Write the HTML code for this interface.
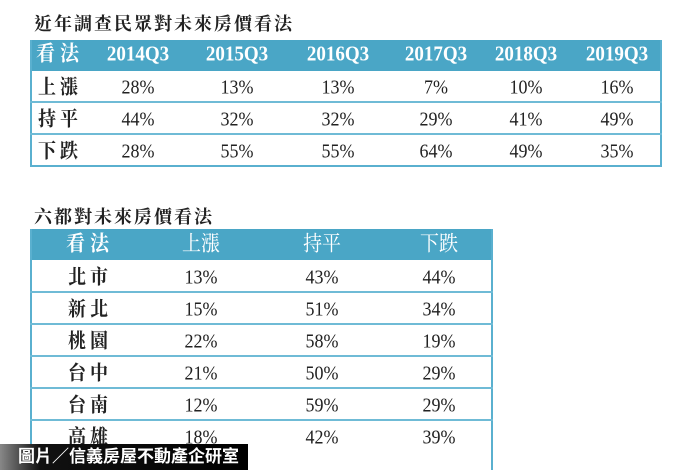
<!DOCTYPE html>
<html><head><meta charset="utf-8"><style>
html,body{margin:0;width:700px;height:470px;overflow:hidden}
body{background:#fff;position:relative;font-family:"Liberation Serif","Noto Serif CJK TC","Noto Serif CJK SC",serif;color:#222}
.t{position:absolute;font-size:18px;font-weight:bold;letter-spacing:2px}
.box{position:absolute;border:2px solid #5ab0cf;border-top:none;box-sizing:border-box}
.hd{position:absolute;background:#4aa6c6}
.ln{position:absolute;height:2px;background:#6fbbd6}
.c{position:absolute;transform:translateX(-50%) scaleY(1.12);font-size:18px;white-space:nowrap;line-height:20px}
.h{color:#fff;font-weight:bold;font-size:19px}
.k{letter-spacing:4px;font-weight:bold}
.cap{position:absolute;left:0;top:444px;width:248px;height:26px;background:linear-gradient(90deg,#888 0,#111 40px,#000 100%);color:#fff;font-family:"Liberation Sans","Noto Sans CJK TC",sans-serif;font-weight:bold;font-size:17px;line-height:26px;padding-left:18px;box-sizing:border-box}
</style></head><body>
<div class="t" style="left:34px;top:10px">近年調查民眾對未來房價看法</div>
<div class="hd" style="left:30px;top:40px;width:632px;height:31px"></div>
<div class="box" style="left:30px;top:40px;width:632px;height:127px"></div>
<div class="ln" style="left:30px;top:101px;width:632px"></div>
<div class="ln" style="left:30px;top:133px;width:632px"></div>
<div class="c h" style="left:60px;top:45px;letter-spacing:5px">看法</div>
<div class="c h" style="left:138px;top:45px">2014Q3</div>
<div class="c h" style="left:237px;top:45px">2015Q3</div>
<div class="c h" style="left:338px;top:45px">2016Q3</div>
<div class="c h" style="left:436px;top:45px">2017Q3</div>
<div class="c h" style="left:526px;top:45px">2018Q3</div>
<div class="c h" style="left:617px;top:45px">2019Q3</div>
<div class="c k" style="left:60px;top:77px">上漲</div><div class="c" style="left:138px;top:77px">28%</div><div class="c" style="left:237px;top:77px">13%</div><div class="c" style="left:338px;top:77px">13%</div><div class="c" style="left:436px;top:77px">7%</div><div class="c" style="left:526px;top:77px">10%</div><div class="c" style="left:617px;top:77px">16%</div>
<div class="c k" style="left:60px;top:109px">持平</div><div class="c" style="left:138px;top:109px">44%</div><div class="c" style="left:237px;top:109px">32%</div><div class="c" style="left:338px;top:109px">32%</div><div class="c" style="left:436px;top:109px">29%</div><div class="c" style="left:526px;top:109px">41%</div><div class="c" style="left:617px;top:109px">49%</div>
<div class="c k" style="left:60px;top:141px">下跌</div><div class="c" style="left:138px;top:141px">28%</div><div class="c" style="left:237px;top:141px">55%</div><div class="c" style="left:338px;top:141px">55%</div><div class="c" style="left:436px;top:141px">64%</div><div class="c" style="left:526px;top:141px">49%</div><div class="c" style="left:617px;top:141px">35%</div>

<div class="t" style="left:34px;top:203px">六都對未來房價看法</div>
<div class="hd" style="left:30px;top:229px;width:463px;height:31px"></div>
<div class="box" style="left:30px;top:229px;width:463px;height:245px"></div>
<div class="ln" style="left:30px;top:291px;width:463px"></div>
<div class="ln" style="left:30px;top:323px;width:463px"></div>
<div class="ln" style="left:30px;top:355px;width:463px"></div>
<div class="ln" style="left:30px;top:387px;width:463px"></div>
<div class="ln" style="left:30px;top:419px;width:463px"></div>
<div class="c h" style="left:90px;top:235px;letter-spacing:5px">看法</div>
<div class="c h" style="left:201px;top:235px;font-weight:normal">上漲</div>
<div class="c h" style="left:322px;top:235px;font-weight:normal">持平</div>
<div class="c h" style="left:439px;top:235px;font-weight:normal">下跌</div>
<div class="c k" style="left:90px;top:267px">北市</div><div class="c" style="left:201px;top:267px">13%</div><div class="c" style="left:322px;top:267px">43%</div><div class="c" style="left:439px;top:267px">44%</div>
<div class="c k" style="left:90px;top:299px">新北</div><div class="c" style="left:201px;top:299px">15%</div><div class="c" style="left:322px;top:299px">51%</div><div class="c" style="left:439px;top:299px">34%</div>
<div class="c k" style="left:90px;top:331px">桃園</div><div class="c" style="left:201px;top:331px">22%</div><div class="c" style="left:322px;top:331px">58%</div><div class="c" style="left:439px;top:331px">19%</div>
<div class="c k" style="left:90px;top:363px">台中</div><div class="c" style="left:201px;top:363px">21%</div><div class="c" style="left:322px;top:363px">50%</div><div class="c" style="left:439px;top:363px">29%</div>
<div class="c k" style="left:90px;top:395px">台南</div><div class="c" style="left:201px;top:395px">12%</div><div class="c" style="left:322px;top:395px">59%</div><div class="c" style="left:439px;top:395px">29%</div>
<div class="c k" style="left:90px;top:427px">高雄</div><div class="c" style="left:201px;top:427px">18%</div><div class="c" style="left:322px;top:427px">42%</div><div class="c" style="left:439px;top:427px">39%</div>
<div class="cap">圖片／信義房屋不動產企研室</div>
</body></html>
